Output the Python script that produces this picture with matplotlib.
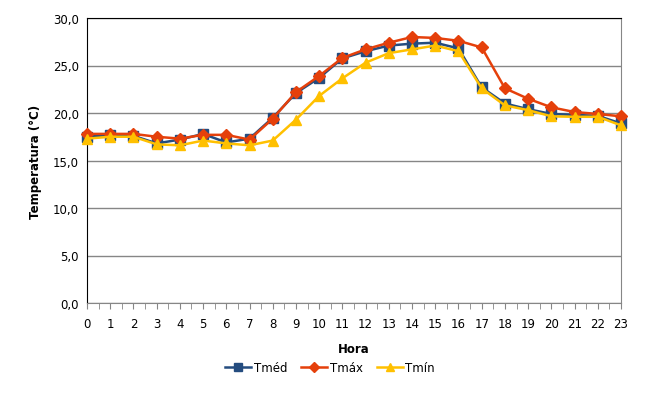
"""Temperatura horária: Tméd, Tmáx e Tmín ao longo do dia."""
import matplotlib
matplotlib.use("Agg")
import matplotlib.pyplot as plt
from matplotlib.ticker import FuncFormatter, MultipleLocator

hours = list(range(24))
t_med = [17.5, 17.7, 17.6, 16.8, 17.2, 17.8, 16.9, 17.3, 19.5, 22.1, 23.7, 25.75,
         26.5, 27.1, 27.3, 27.4, 26.8, 22.7, 21.0, 20.4, 19.9, 19.8, 19.7, 18.9]
t_max = [17.8, 17.8, 17.8, 17.5, 17.3, 17.7, 17.7, 17.2, 19.4, 22.2, 23.9, 25.8,
         26.7, 27.4, 28.0, 27.9, 27.6, 26.9, 22.6, 21.5, 20.6, 20.1, 19.9, 19.65]
t_min = [17.3, 17.5, 17.5, 16.7, 16.6, 17.1, 16.8, 16.6, 17.1, 19.3, 21.8, 23.65,
         25.3, 26.3, 26.7, 27.1, 26.5, 22.6, 20.8, 20.3, 19.65, 19.6, 19.6, 18.7]

plt.rcParams["font.family"] = ["DejaVu Sans"]

fig = plt.figure(figsize=(6.6, 4.02), dpi=100)
ax = fig.add_axes([87 / 660, 1 - 304 / 402, (621 - 87) / 660, (304 - 19) / 402])

ax.plot(hours, t_med, color="#244C7F", lw=1.8, marker="s", ms=6.5, label="Tméd",
        zorder=3, clip_on=False)
ax.plot(hours, t_max, color="#E5400B", lw=1.8, marker="D", ms=6, label="Tmáx",
        zorder=4, clip_on=False)
ax.plot(hours, t_min, color="#FFC000", lw=1.8, marker="^", ms=7, label="Tmín",
        zorder=5, clip_on=False)

ax.set_xlim(0, 23)
ax.set_ylim(0, 30)
ax.set_xticks(hours)
ax.xaxis.set_minor_locator(MultipleLocator(0.5))
ax.yaxis.set_major_locator(MultipleLocator(5))
ax.yaxis.set_major_formatter(FuncFormatter(lambda v, _: f"{v:.1f}".replace(".", ",")))
ax.grid(axis="y", color="#868686", lw=1)
ax.set_axisbelow(True)

ax.tick_params(axis="x", which="both", direction="out", length=4, color="#868686",
               labelsize=8.5, pad=6)
ax.tick_params(axis="y", length=0, labelsize=8.5, pad=6)

for side in ("left", "top"):
    ax.spines[side].set_color("black")
for side in ("right", "bottom"):
    ax.spines[side].set_color("#868686")

ax.set_xlabel("Hora", fontsize=8.5, fontweight="bold", labelpad=9)
ax.set_ylabel("Temperatura (°C)", fontsize=8.5, fontweight="bold", labelpad=8)

fig.legend(loc="center", bbox_to_anchor=(0.5, 1 - 369 / 402), ncol=3, frameon=False,
           fontsize=8.5, handlelength=2.2, handletextpad=0.2, columnspacing=1.2,
           markerscale=0.85)

fig.savefig("out.png", dpi=100)
